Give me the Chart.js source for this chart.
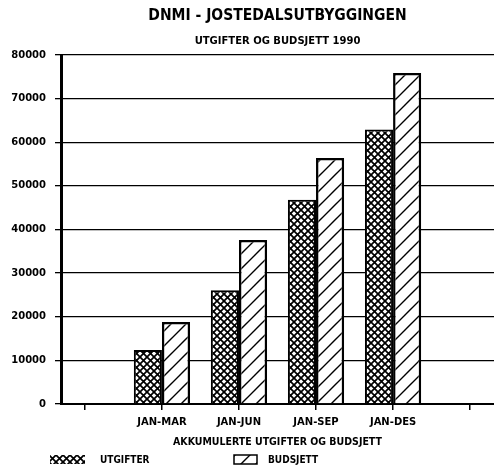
<!DOCTYPE html>
<html>
<head>
<meta charset="utf-8">
<script src="https://cdn.jsdelivr.net/npm/chart.js@4.4.1/dist/chart.umd.min.js"></script>
<style>
  html, body { margin: 0; padding: 0; background: #fff; }
  #wrap { width: 494px; height: 468px; }
</style>
</head>
<body>
<div id="wrap"><canvas id="chart" width="494" height="468"></canvas></div>
<script>
// tick slots on the x axis, first and last are empty
const tickLabels = ["", "JAN-MAR", "JAN-JUN", "JAN-SEP", "JAN-DES", ""];
const utgifter = [null, 12400, 26100, 46800, 62900, null];
const budsjett = [null, 18800, 37600, 56400, 75900, null];
const yTicks = [0, 10000, 20000, 30000, 40000, 50000, 60000, 70000, 80000];
const seriesNames = ["UTGIFTER", "BUDSJETT"];

const NARROW = "'Liberation Sans Narrow', 'DejaVu Sans Condensed', sans-serif";
const WIDE = "'DejaVu Sans', sans-serif";
const COND = "'DejaVu Sans Condensed', 'DejaVu Sans', sans-serif";

function crossHatch() {
  const c = document.createElement("canvas");
  c.width = 7; c.height = 7;
  const g = c.getContext("2d");
  g.fillStyle = "#fff";
  g.fillRect(0, 0, 7, 7);
  g.strokeStyle = "#000";
  g.lineWidth = 1.7;
  g.beginPath();
  g.moveTo(-1, -1); g.lineTo(8, 8);
  g.moveTo(-1, 8); g.lineTo(8, -1);
  g.stroke();
  return g.createPattern(c, "repeat");
}

function diagonal() {
  const c = document.createElement("canvas");
  c.width = 15; c.height = 15;
  const g = c.getContext("2d");
  g.fillStyle = "#fff";
  g.fillRect(0, 0, 15, 15);
  g.strokeStyle = "#000";
  g.lineWidth = 1.4;
  g.beginPath();
  g.moveTo(-2, 17); g.lineTo(17, -2);
  g.moveTo(-2, 2); g.lineTo(2, -2);
  g.moveTo(13, 17); g.lineTo(17, 13);
  g.stroke();
  return g.createPattern(c, "repeat");
}

const fills = [crossHatch(), diagonal()];

// legend row under the axis title
const legendRow = {
  id: "legendRow",
  afterDraw(chart) {
    const ctx = chart.ctx;
    const boxes = [
      { x: 50, w: 35, tx: 100, border: false },
      { x: 234, w: 23, tx: 268, border: true }
    ];
    ctx.save();
    chart.data.datasets.forEach((ds, i) => {
      const b = boxes[i];
      ctx.fillStyle = ds.backgroundColor;
      ctx.fillRect(b.x, 455, b.w, 9);
      if (b.border) {
        ctx.strokeStyle = "#000";
        ctx.lineWidth = 1.5;
        ctx.strokeRect(b.x, 455, b.w, 9);
      }
      ctx.fillStyle = "#000";
      ctx.font = "bold 10px " + COND;
      ctx.textBaseline = "middle";
      ctx.textAlign = "left";
      ctx.fillText(ds.label, b.tx, 460);
    });
    ctx.restore();
  }
};

new Chart(document.getElementById("chart"), {
  type: "bar",
  data: {
    datasets: [
      {
        label: seriesNames[0],
        data: tickLabels.map((_, i) => ({ x: i, y: utgifter[i] })),
        backgroundColor: fills[0],
        borderColor: "#000",
        borderWidth: 2
      },
      {
        label: seriesNames[1],
        data: tickLabels.map((_, i) => ({ x: i, y: budsjett[i] })),
        backgroundColor: fills[1],
        borderColor: "#000",
        borderWidth: 2.5
      }
    ]
  },
  options: {
    responsive: false,
    animation: false,
    layout: { padding: { top: 0, right: 0, bottom: 0, left: 0 } },
    categoryPercentage: 0.73,
    barPercentage: 1.0,
    plugins: {
      legend: { display: false },
      tooltip: { enabled: false },
      title: {
        display: true,
        text: "DNMI - JOSTEDALSUTBYGGINGEN",
        fullSize: false,
        color: "#000",
        font: { family: NARROW, size: 15.5, weight: "bold", lineHeight: 1.2 },
        padding: { top: 7, bottom: 5 }
      },
      subtitle: {
        display: true,
        text: "UTGIFTER OG BUDSJETT 1990",
        fullSize: false,
        color: "#000",
        font: { family: WIDE, size: 10, weight: "bold", lineHeight: 1.2 },
        padding: { top: 5, bottom: 7.4 }
      }
    },
    scales: {
      x: {
        type: "linear",
        min: -0.31,
        max: 5.31,
        offset: false,
        afterBuildTicks: (s) => { s.ticks = tickLabels.map((_, i) => ({ value: i })); },
        afterFit: (s) => { s.height = 64; },
        grid: { offset: false, drawOnChartArea: false, drawTicks: true, tickLength: 6, color: "#000", lineWidth: 1.5 },
        border: { display: true, color: "#000", width: 2 },
        ticks: {
          color: "#000",
          padding: 6,
          maxRotation: 0,
          autoSkip: false,
          font: { family: WIDE, size: 10, weight: "bold", lineHeight: 1.2 },
          callback: (v, i) => tickLabels[i]
        },
        title: {
          display: true,
          text: "AKKUMULERTE UTGIFTER OG BUDSJETT",
          color: "#000",
          font: { family: COND, size: 10.5, weight: "bold", lineHeight: 1.2 },
          padding: { top: 0, bottom: 19 }
        }
      },
      y: {
        min: 0,
        max: 80000,
        afterBuildTicks: (s) => { s.ticks = yTicks.map(v => ({ value: v })); },
        afterFit: (s) => { s.width = 61; },
        grid: { color: "#000", lineWidth: 1.3, tickLength: 6 },
        border: { display: true, color: "#000", width: 3 },
        ticks: {
          color: "#000",
          padding: 9,
          font: { family: WIDE, size: 10, weight: "bold" },
          callback: (v) => String(v)
        }
      }
    }
  },
  plugins: [legendRow]
});
</script>
</body>
</html>
